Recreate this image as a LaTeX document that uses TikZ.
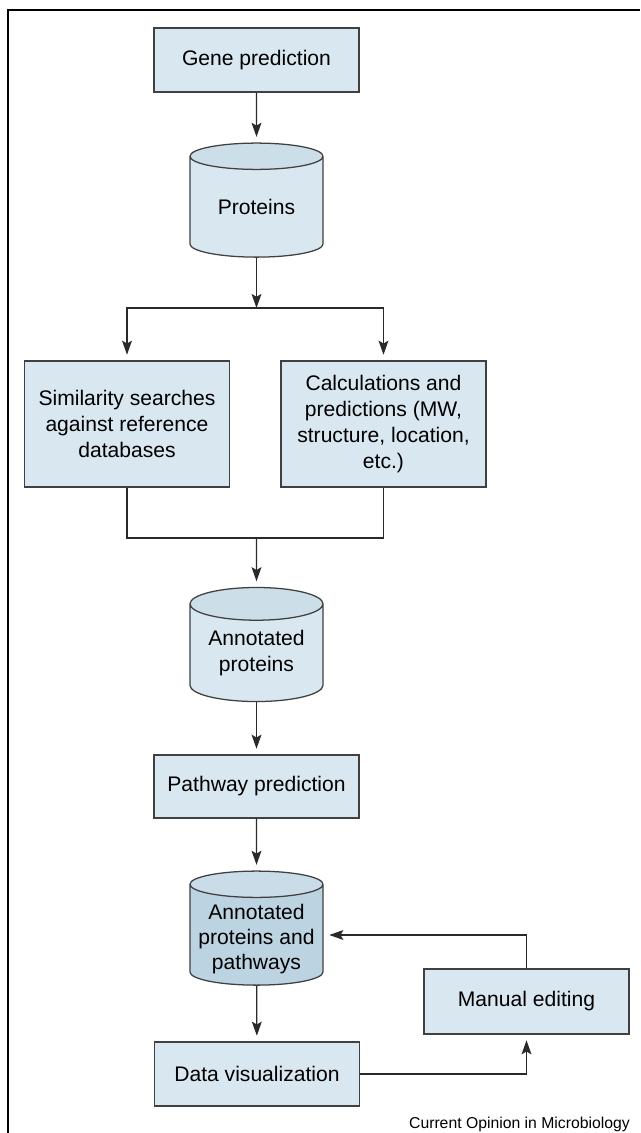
\documentclass[tikz,border=0pt]{standalone}
\usepackage{fontspec}
\setmainfont{Liberation Sans}
\usetikzlibrary{shapes.geometric,arrows.meta}
\definecolor{boxfill}{HTML}{D9E7F0}
\definecolor{cylend}{HTML}{CCDEE8}
\definecolor{cylbody}{HTML}{D9E7F0}
\definecolor{darkend}{HTML}{C9DCE7}
\definecolor{darkbody}{HTML}{BCD3E2}
\definecolor{edgegray}{HTML}{404040}
\definecolor{linegray}{HTML}{2A2A2A}
\tikzset{
    procbox/.style={rectangle, draw=edgegray, line width=0.9pt, fill=boxfill, align=center,
        font=\fontsize{15}{18.4}\selectfont, inner sep=0pt, minimum width=5.12cm}
}
\tikzset{
    dbcyl/.style={cylinder, shape border rotate=90, aspect=0.34, draw=edgegray, line width=0.9pt,
        cylinder uses custom fill, cylinder end fill=cylend, cylinder body fill=cylbody,
        minimum width=3.325cm, minimum height=2.85cm, align=center,
        font=\fontsize{15}{18.4}\selectfont, inner sep=0pt},
    dbdark/.style={cylinder end fill=darkend, cylinder body fill=darkbody},
    cyltext/.style={align=center, font=\fontsize{15}{17.8}\selectfont, inner sep=0pt},
    flow/.style={draw=linegray, line width=0.9pt, -{Stealth[length=10pt, width=7pt, inset=2pt]}, shorten >=4pt},
    joinline/.style={draw=linegray, line width=0.9pt}
}

\begin{document}
\begin{tikzpicture}[x=0.025cm, y=-0.025cm]
        \useasboundingbox (0,0) rectangle (640,1133);
        \draw[line width=1.4pt] (8,1133) -- (8,10) -- (640,10);
        \node[procbox, minimum height=1.6cm] (gene) at (256.5,60) {Gene prediction};
        \node[dbcyl] (prot) at (256.5,207) {Proteins};
        \coordinate (fork) at (256.5,308);
        \node[procbox, minimum height=3.15cm] (simsearch) at (127,424) {Similarity searches\\against reference\\databases};
        \node[procbox, minimum height=3.15cm] (calcpred) at (383.5,424) {Calculations and\\predictions (MW,\\structure, location,\\etc.)};
        \coordinate (join) at (256.5,538);
        \node[dbcyl] (annot) at (256.5,653) {Annotated\\proteins};
        \node[procbox, minimum height=1.575cm] (pathpred) at (256.5,786.5) {Pathway prediction};
        \node[dbcyl, dbdark] (annotpath) at (256.5,935) {\phantom{Proteins}};
        \node[cyltext] (annotpathtext) at (256.5,939) {Annotated\\proteins and\\pathways};
        \node[procbox, minimum height=1.6cm] (dataviz) at (257,1074) {Data visualization};
        \node[procbox, minimum height=1.625cm] (manedit) at (526.5,1001.5) {Manual editing};
        \node[anchor=base east, font=\fontsize{11.2}{13}\selectfont, inner sep=0pt] (credit) at (630,1128) {Current Opinion in Microbiology};
        \draw[flow] (gene) -- (prot);
        \draw[flow, shorten >=0pt] (prot) -- (fork);
        \draw[flow] (fork) -| (simsearch);
        \draw[flow] (fork) -| (calcpred);
        \draw[joinline] (simsearch) |- (join) -| (calcpred);
        \draw[flow] (join) -- (annot);
        \draw[flow] (annot) -- (pathpred);
        \draw[flow] (pathpred) -- (annotpath);
        \draw[flow] (annotpath) -- (dataviz);
        \draw[flow] (dataviz) -| (manedit);
        \draw[flow] (manedit) |- (annotpath);
\end{tikzpicture}
\end{document}
